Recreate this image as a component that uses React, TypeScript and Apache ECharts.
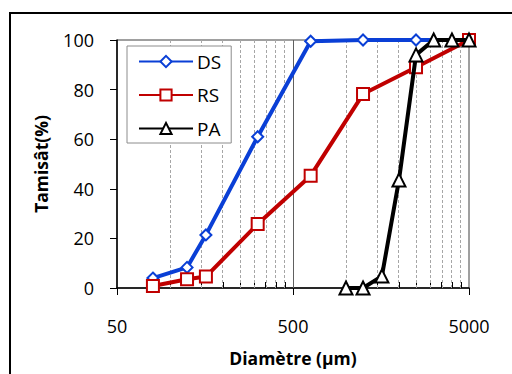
import React, { useEffect, useRef } from "react";
import * as echarts from "echarts";

const sieveSizes = [80, 125, 160, 315, 630, 1250, 2500, 5000];
const dsValues = [4, 8.3, 21.4, 61, 99.5, 100, 100, 100];
const rsValues = [0.8, 3.5, 4.6, 25.8, 45.3, 78.2, 89, 100];
const paSizes = [1000, 1250, 1600, 2000, 2500, 3150, 4000, 5000];
const paValues = [0, 0, 4.8, 43.5, 94, 100, 100, 100];
const xTickLabels = [50, 500, 5000];
const minorGrid = [100, 150, 200, 250, 300, 350, 400, 450, 1000, 1500, 2000, 2500, 3000, 3500, 4000, 4500];
const majorGrid = [500];

const BASE = 50;
const tx = (v: number) => Math.log10(v / BASE);
const FONT = "'Open Sans', 'Noto Sans', sans-serif";

export default function App() {
  const ref = useRef<HTMLDivElement>(null);
  useEffect(() => {
    if (!ref.current) return;
    const chart = echarts.init(ref.current, undefined, { renderer: "svg" });
    const pairs = (xs: number[], ys: number[]) => xs.map((x, i) => [tx(x), ys[i]]);
    const option: any = {
      animation: false,
      backgroundColor: "#fff",
      textStyle: { fontFamily: FONT },
      grid: {
        left: 117,
        top: 40,
        width: 352,
        height: 248,
        show: true,
        borderColor: "#404040",
        borderWidth: 1,
        outerBoundsMode: "none",
        containLabel: false,
      },
      graphic: [
        {
          type: "rect",
          shape: { x: 10, y: 13, width: 560, height: 420 },
          style: { fill: "none", stroke: "#000", lineWidth: 2 },
          silent: true,
        },
      ],
      legend: {
        orient: "vertical",
        left: 127,
        top: 46,
        backgroundColor: "#fff",
        borderColor: "#8c8c8c",
        borderWidth: 1,
        padding: [6, 10, 5, 11],
        itemWidth: 54,
        itemHeight: 14,
        itemGap: 14.5,
        textStyle: { fontFamily: FONT, fontSize: 19, lineHeight: 14, color: "#000", padding: [0, 0, 0, -1] },
        data: ["DS", "RS", "PA"],
      },
      xAxis: [
        {
          type: "value",
          min: 0,
          max: 2,
          interval: 1,
          name: "Diamètre (µm)",
          nameLocation: "middle",
          nameGap: 61,
          nameTextStyle: { fontFamily: FONT, fontSize: 17.5, fontWeight: "bold", color: "#000" },
          axisLine: { show: true, lineStyle: { color: "#000", width: 1.5 } },
          axisTick: { show: true, inside: false, length: 7, lineStyle: { color: "#000" } },
          axisLabel: {
            fontFamily: FONT,
            fontSize: 18,
            color: "#000",
            margin: 29,
            formatter: (v: number) => {
              const val = Math.round(BASE * Math.pow(10, v));
              return xTickLabels.includes(val) ? String(val) : "";
            },
          },
          splitLine: { show: false },
        },
        {
          type: "value",
          min: 0,
          max: 2,
          position: "bottom",
          axisLine: { show: false },
          axisLabel: { show: false, customValues: [] },
          axisTick: {
            show: true,
            inside: true,
            length: 6,
            customValues: minorGrid.map(tx),
            lineStyle: { color: "#000" },
          },
          splitLine: { show: false },
        },
      ],
      yAxis: {
        type: "value",
        min: 0,
        max: 100,
        interval: 20,
        name: "Tamisât(%)",
        nameLocation: "middle",
        nameGap: 67,
        nameRotate: 90,
        nameTextStyle: { fontFamily: FONT, fontSize: 17.5, fontWeight: "bold", color: "#000" },
        axisLine: { show: true, lineStyle: { color: "#000", width: 1.5 } },
        axisTick: { show: true, inside: false, length: 7, lineStyle: { color: "#000" } },
        axisLabel: { fontFamily: FONT, fontSize: 18, color: "#000", margin: 23 },
        splitLine: { show: false },
      },
      series: [
        {
          name: "DS",
          type: "line",
          data: pairs(sieveSizes, dsValues),
          symbol: "emptyDiamond",
          symbolSize: 11,
          color: "#0a3fd6",
          lineStyle: { width: 4, color: "#0a3fd6" },
          itemStyle: { color: "#0a3fd6", borderColor: "#2a55e0", borderWidth: 1.2 },
          z: 3,
          markLine: {
            silent: true,
            symbol: "none",
            label: { show: false },
            z: 1,
            data: [
              ...minorGrid.map((v) => ({
                xAxis: tx(v),
                lineStyle: { color: "#a6a6a6", type: [3, 2], width: 1 },
              })),
              ...majorGrid.map((v) => ({
                xAxis: tx(v),
                lineStyle: { color: "#606060", type: "solid", width: 1 },
              })),
            ],
          },
        },
        {
          name: "RS",
          type: "line",
          data: pairs(sieveSizes, rsValues),
          symbol: "emptyRect",
          symbolSize: 12,
          color: "#c00000",
          lineStyle: { width: 4, color: "#c00000" },
          itemStyle: { color: "#c00000", borderColor: "#d42020", borderWidth: 1.2 },
          z: 4,
        },
        {
          name: "PA",
          type: "line",
          data: pairs(paSizes, paValues),
          symbol: "emptyTriangle",
          symbolSize: 13,
          color: "#000",
          lineStyle: { width: 4, color: "#000" },
          itemStyle: { color: "#000", borderColor: "#000", borderWidth: 1.2 },
          z: 5,
        },
      ],
    };
    chart.setOption(option);
    return () => chart.dispose();
  }, []);
  return <div ref={ref} style={{ width: 512, height: 374, position: "absolute", left: 0, top: 0 }} />;
}
